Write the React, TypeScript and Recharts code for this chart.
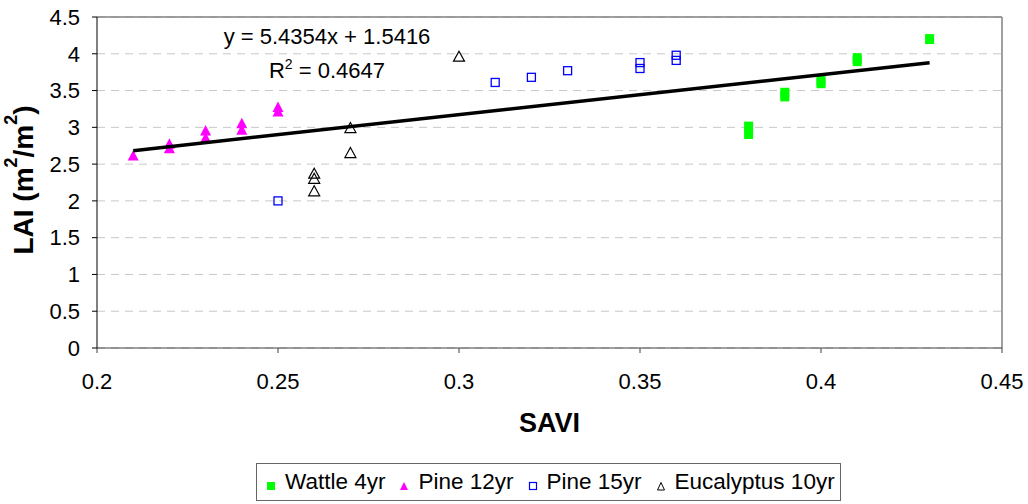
import React from 'react';
import {
  ScatterChart,
  Scatter,
  XAxis,
  YAxis,
  CartesianGrid,
  ReferenceLine,
  Customized,
} from 'recharts';

const FONT = '"Liberation Sans", Arial, sans-serif';

// SAVI vs LAI per stand
const wattleSavi = [0.38, 0.38, 0.39, 0.39, 0.4, 0.4, 0.41, 0.41, 0.43];
const wattleLai = [3.01, 2.91, 3.47, 3.42, 3.63, 3.6, 3.94, 3.9, 4.2];

const pine12Savi = [0.21, 0.22, 0.22, 0.23, 0.23, 0.24, 0.24, 0.25, 0.25];
const pine12Lai = [2.61, 2.77, 2.71, 2.95, 2.85, 3.05, 2.96, 3.27, 3.21];

const pine15Savi = [0.25, 0.31, 0.32, 0.33, 0.35, 0.35, 0.36, 0.36];
const pine15Lai = [2.0, 3.61, 3.68, 3.77, 3.88, 3.8, 3.98, 3.91];

const eucSavi = [0.26, 0.26, 0.26, 0.27, 0.27, 0.3];
const eucLai = [2.37, 2.3, 2.13, 2.99, 2.65, 3.96];

// linear trendline from the chart's equation
const slope = 5.4354;
const intercept = 1.5416;
const trendSavi = [0.21, 0.43];

const xTicks = [0.2, 0.25, 0.3, 0.35, 0.4, 0.45];
const yTicks = [0, 0.5, 1, 1.5, 2, 2.5, 3, 3.5, 4, 4.5];

const toPoints = (xs: number[], ys: number[]) => xs.map((x, i) => ({ x, y: ys[i] }));

const wattle = toPoints(wattleSavi, wattleLai);
const pine12 = toPoints(pine12Savi, pine12Lai);
const pine15 = toPoints(pine15Savi, pine15Lai);
const euc = toPoints(eucSavi, eucLai);
const trend = trendSavi.map((x) => ({ x, y: slope * x + intercept }));

const GreenSquare = (p: any) => (
  <rect x={p.cx - 4.5} y={p.cy - 5} width={9} height={10} fill="#00FF00" />
);
const MagentaTriangle = (p: any) => (
  <polygon
    points={`${p.cx},${p.cy - 6} ${p.cx + 5.5},${p.cy + 4.5} ${p.cx - 5.5},${p.cy + 4.5}`}
    fill="#FF00FF"
  />
);
const BlueSquare = (p: any) => (
  <rect x={p.cx - 4} y={p.cy - 4} width={8} height={8} fill="none" stroke="#0000FF" strokeWidth={1.3} />
);
const OpenTriangle = (p: any) => (
  <polygon
    points={`${p.cx},${p.cy - 5.5} ${p.cx + 5.5},${p.cy + 4.5} ${p.cx - 5.5},${p.cy + 4.5}`}
    fill="none"
    stroke="#000"
    strokeWidth={1.2}
  />
);

const Equation = () => (
  <g fontFamily={FONT} fontSize={22} fill="#000">
    <text x={327} y={44} textAnchor="middle">
      y = 5.4354x + 1.5416
    </text>
    <text x={327} y={78} textAnchor="middle">
      R<tspan dy={-9} fontSize={14}>2</tspan>
      <tspan dy={9}> = 0.4647</tspan>
    </text>
  </g>
);

const YTitle = () => (
  <text
    x={23}
    y={180}
    transform="rotate(-90, 23, 180)"
    textAnchor="middle"
    dominantBaseline="central"
    fontFamily={FONT}
    fontSize={28}
    fontWeight="bold"
    fill="#000"
  >
    LAI (m<tspan dy={-12} fontSize={18}>2</tspan>
    <tspan dy={12}>/m</tspan>
    <tspan dy={-12} fontSize={18}>2</tspan>
    <tspan dy={12}>)</tspan>
  </text>
);

const legendItems = [
  { name: 'Wattle 4yr', icon: 'gsq' },
  { name: 'Pine 12yr', icon: 'mtri' },
  { name: 'Pine 15yr', icon: 'bsq' },
  { name: 'Eucalyptus 10yr', icon: 'otri' },
];

const LegendIcon = ({ kind }: { kind: string }) => (
  <svg width={10} height={12} style={{ marginRight: 9, marginTop: 5 }}>
    {kind === 'gsq' && <rect x={1} y={3} width={8} height={8} fill="#00FF00" />}
    {kind === 'mtri' && <polygon points="5,3 9,11 1,11" fill="#FF00FF" />}
    {kind === 'bsq' && <rect x={1.5} y={3.5} width={7} height={7} fill="none" stroke="#0000FF" strokeWidth={1.2} />}
    {kind === 'otri' && <polygon points="5,3.5 8.5,11 1.5,11" fill="none" stroke="#000" strokeWidth={1} />}
  </svg>
);

const App = () => {
  return (
    <div style={{ position: 'absolute', left: 0, top: 0, width: 1028, height: 504, background: '#fff' }}>
      <ScatterChart width={1028} height={504} margin={{ top: 17, right: 26, bottom: 116, left: 37 }}>
        <CartesianGrid horizontal vertical={false} stroke="#c8c8c8" strokeDasharray="8 6" />
        <XAxis
          type="number"
          dataKey="x"
          domain={[0.2, 0.45]}
          ticks={xTicks}
          height={40}
          stroke="#404040"
          tickSize={5}
          tickMargin={20}
          tick={{ fontSize: 22, fill: '#000', fontFamily: FONT }}
          label={{
            value: 'SAVI',
            position: 'insideBottom',
            offset: -44,
            style: { fontSize: 27, fontWeight: 'bold', fill: '#000', fontFamily: FONT },
          }}
        />
        <YAxis
          type="number"
          dataKey="y"
          domain={[0, 4.5]}
          ticks={yTicks}
          width={60}
          stroke="#000"
          tickSize={5}
          tickMargin={12}
          tick={{ fontSize: 22, fill: '#000', fontFamily: FONT }}
        />
        <ReferenceLine y={4.5} stroke="#808080" strokeWidth={1.5} />
        <ReferenceLine x={0.45} stroke="#808080" strokeWidth={1.5} />
        <Scatter name="Wattle 4yr" data={wattle} shape={GreenSquare} isAnimationActive={false} />
        <Scatter name="Pine 12yr" data={pine12} shape={MagentaTriangle} isAnimationActive={false} />
        <Scatter name="Pine 15yr" data={pine15} shape={BlueSquare} isAnimationActive={false} />
        <Scatter name="Eucalyptus 10yr" data={euc} shape={OpenTriangle} isAnimationActive={false} />
        <Scatter
          name="Linear"
          data={trend}
          line={{ stroke: '#000', strokeWidth: 3.5 }}
          shape={() => <g />}
          isAnimationActive={false}
        />
        <Customized component={<Equation />} />
        <Customized component={<YTitle />} />
      </ScatterChart>
      <div
        style={{
          position: 'absolute',
          left: 256,
          top: 463,
          width: 585,
          height: 38,
          border: '1.5px solid #666',
          display: 'flex',
          alignItems: 'center',
          paddingLeft: 9,
          boxSizing: 'border-box',
          fontFamily: FONT,
          fontSize: 22.5,
          color: '#000',
          whiteSpace: 'nowrap',
        }}
      >
        {legendItems.map((it) => (
          <div key={it.name} style={{ display: 'flex', alignItems: 'center', marginRight: 14 }}>
            <LegendIcon kind={it.icon} />
            <span>{it.name}</span>
          </div>
        ))}
      </div>
    </div>
  );
};

export default App;
